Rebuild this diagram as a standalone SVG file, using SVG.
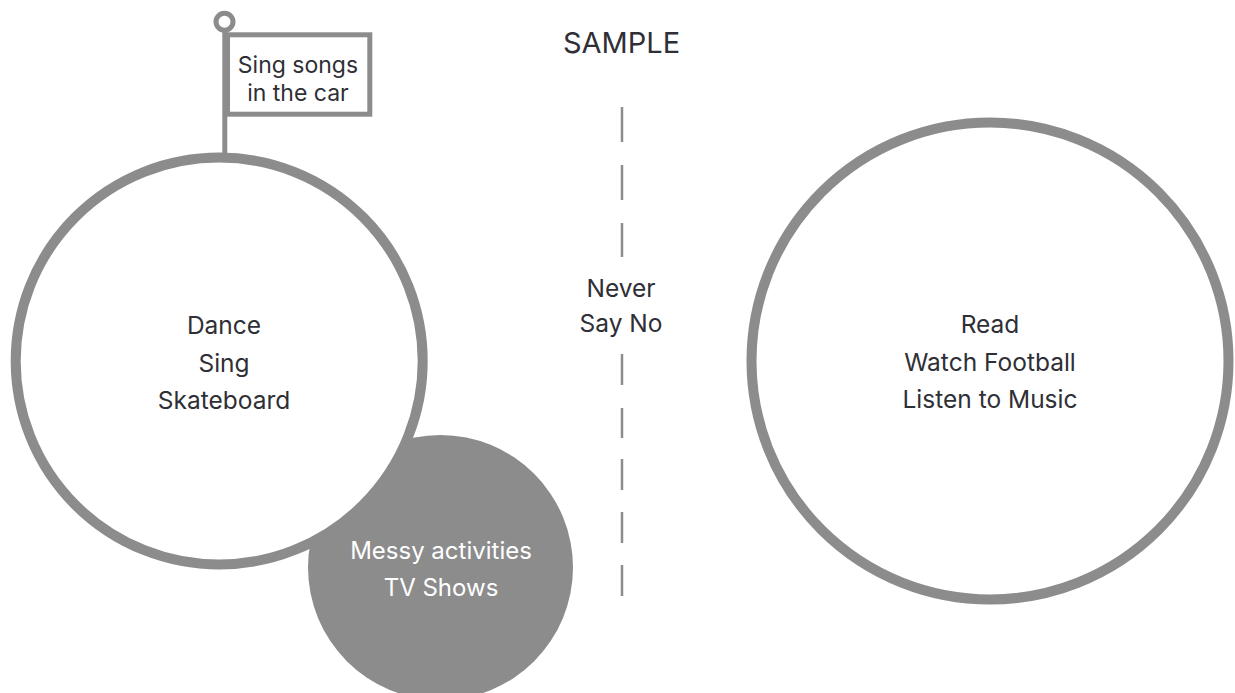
<svg xmlns="http://www.w3.org/2000/svg" width="1235" height="693" viewBox="0 0 1235 693">
  <style>
    .ring { fill: #ffffff; stroke: #8c8c8c; stroke-width: 10; }
    .lbl { font-family: Inter, Lato, "Liberation Sans", sans-serif; font-size: 24.5px; fill: #2f2f36; text-anchor: middle; }
    .wlbl { font-family: Inter, Lato, "Liberation Sans", sans-serif; font-size: 24px; fill: #ffffff; text-anchor: middle; }
    .dash { stroke: #8c8c8c; stroke-width: 2.5; }
  </style>
  <rect width="1235" height="693" fill="#ffffff"/>
  <text class="lbl" x="621.5" y="53" style="font-size:29px">SAMPLE</text>

  <g id="connectors">
    <line class="dash" x1="622" y1="107" x2="622" y2="142"/>
    <line class="dash" x1="622" y1="165" x2="622" y2="200"/>
    <line class="dash" x1="622" y1="223" x2="622" y2="257"/>
    <line class="dash" x1="622" y1="354" x2="622" y2="385"/>
    <line class="dash" x1="622" y1="408" x2="622" y2="438"/>
    <line class="dash" x1="622" y1="459" x2="622" y2="490"/>
    <line class="dash" x1="622" y1="512" x2="622" y2="543"/>
    <line class="dash" x1="622" y1="565" x2="622" y2="596"/>
  </g>

  <g id="never-say-no">
    <text class="lbl" x="621" y="297">Never</text>
    <text class="lbl" x="621" y="332">Say No</text>
  </g>

  <g id="messy">
    <circle cx="440.5" cy="567.5" r="132.5" fill="#8c8c8c"/>
    <text class="wlbl" x="441" y="559">Messy activities</text>
    <text class="wlbl" x="441" y="596">TV Shows</text>
  </g>

  <g id="flag">
    <line x1="224.8" y1="30" x2="224.8" y2="158" stroke="#8c8c8c" stroke-width="5"/>
    <circle cx="224.5" cy="21.7" r="8.5" fill="#ffffff" stroke="#8c8c8c" stroke-width="5"/>
    <rect x="227.5" y="34.8" width="142.3" height="79.4" fill="#ffffff" stroke="#8c8c8c" stroke-width="5"/>
    <text class="lbl" x="298" y="72.7" style="font-size:23px">Sing songs</text>
    <text class="lbl" x="298" y="100.7" style="font-size:23px">in the car</text>
  </g>

  <g id="left-circle">
    <circle class="ring" cx="219.2" cy="361" r="203.5"/>
    <text class="lbl" x="224" y="334">Dance</text>
    <text class="lbl" x="224" y="371.7">Sing</text>
    <text class="lbl" x="224" y="409">Skateboard</text>
  </g>

  <g id="right-circle">
    <circle class="ring" cx="990" cy="361" r="238.5"/>
    <text class="lbl" x="990" y="332.7">Read</text>
    <text class="lbl" x="990" y="370.7">Watch Football</text>
    <text class="lbl" x="990" y="407.7">Listen to Music</text>
  </g>
</svg>
